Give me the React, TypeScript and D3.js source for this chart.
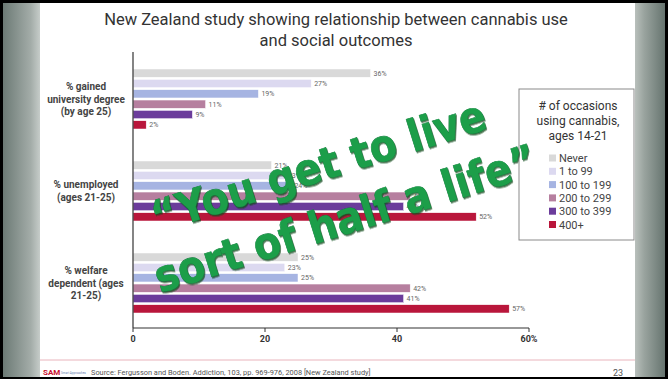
import React from "react";
import * as d3 from "d3";

const groups = ["degree", "unemployed", "welfare"];
const groupLabels = [
  ["% gained", "university degree", "(by age 25)"],
  ["% unemployed", "(ages 21-25)"],
  ["% welfare", "dependent (ages", "21-25)"],
];
const seriesNames = ["Never", "1 to 99", "100 to 199", "200 to 299", "300 to 399", "400+"];
const seriesColors = ["#d9d9d9", "#dcd9f0", "#a6b4e2", "#b67f9f", "#6b3c9b", "#b9163b"];
const never = [36, 21, 25];
const s1to99 = [27, 23, 23];
const s100to199 = [19, 24, 25];
const s200to299 = [11, 42, 42];
const s300to399 = [9, 41, 41];
const s400plus = [2, 52, 57];
const seriesValues = [never, s1to99, s100to199, s200to299, s300to399, s400plus];
const xTicks = [0, 20, 40, 60];
const titleLines = ["New Zealand study showing relationship between cannabis use", "and social outcomes"];
const legendTitle = ["# of occasions", "using cannabis,", "ages 14-21"];
const quoteLines = ["\u201CYou get to live", "sort of half a life\u201D"];
const sourceText = "Source: Fergusson and Boden. Addiction, 103, pp. 969-976, 2008 [New Zealand study]";
const pageNumber = "23";

const W = 668;
const H = 379;
const FONT = "Roboto, 'Open Sans', sans-serif";

export default function App() {
  const x = d3.scaleLinear().domain([0, 60]).range([133, 529]);
  const yOuter = d3.scaleBand<string>().domain(groups).range([53, 329]).padding(0);
  const yInner = d3.scaleBand<string>().domain(seriesNames).range([-30, 30]).paddingInner(0.2).paddingOuter(0);
  const axisY = 328;
  const angle = -17.5;

  return (
    <svg width={W} height={H} style={{ position: "absolute", left: 0, top: 0 }} fontFamily={FONT}>
      <defs>
        <linearGradient id="lp" x1="0" x2="1" y1="0" y2="0">
          <stop offset="0" stopColor="#6c7a75" />
          <stop offset="0.75" stopColor="#a3aca8" />
          <stop offset="1" stopColor="#c6ccc9" />
        </linearGradient>
        <linearGradient id="rp" x1="0" x2="1" y1="0" y2="0">
          <stop offset="0" stopColor="#b9c0bc" />
          <stop offset="0.3" stopColor="#9aa49f" />
          <stop offset="1" stopColor="#66746f" />
        </linearGradient>
        <filter id="sh" x="-10%" y="-10%" width="120%" height="130%">
          <feDropShadow dx="1" dy="1.5" stdDeviation="0.7" floodColor="#0a4a1e" floodOpacity="0.75" />
        </filter>
      </defs>
      <rect x={0} y={0} width={W} height={H} fill="#000" />
      <rect x={3} y={3} width={37} height={374} fill="url(#lp)" />
      <rect x={635} y={3} width={30} height={374} fill="url(#rp)" />
      <rect x={40} y={3} width={595} height={374} fill="#ffffff" />

      {/* title */}
      {titleLines.map((t, i) => (
        <text key={i} x={336} y={25 + i * 21} textAnchor="middle" fontSize={16.5} fill="#333">
          {t}
        </text>
      ))}

      {/* bars */}
      {groups.map((g, gi) => {
        const cy = (yOuter(g) as number) + yOuter.bandwidth() / 2;
        return (
          <g key={g}>
            {seriesNames.map((s, si) => {
              const v = seriesValues[si][gi];
              const y0 = cy + (yInner(s) as number);
              return (
                <g key={s}>
                  <rect
                    x={x(0)}
                    y={y0}
                    width={x(v) - x(0)}
                    height={yInner.bandwidth()}
                    fill={seriesColors[si]}
                    stroke="#fff"
                    strokeWidth={0.5}
                  />
                  <text x={x(v) + 3} y={y0 + yInner.bandwidth() / 2 + 2.5} fontSize={7} fill="#666">
                    {v}%
                  </text>
                </g>
              );
            })}
            {groupLabels[gi].map((l, li) => {
              const n = groupLabels[gi].length;
              return (
                <text
                  key={li}
                  x={86}
                  y={cy + (li - (n - 1) / 2) * 12.5 + 3.5}
                  textAnchor="middle"
                  fontSize={10}
                  fontWeight="bold"
                  fill="#444"
                >
                  {l}
                </text>
              );
            })}
          </g>
        );
      })}

      {/* axes */}
      <line x1={x(0)} x2={x(0)} y1={52} y2={axisY} stroke="#333" strokeWidth={1.2} />
      <line x1={x(0)} x2={x(60)} y1={axisY} y2={axisY} stroke="#333" strokeWidth={1.2} />
      {xTicks.map((t) => (
        <g key={t}>
          <line x1={x(t)} x2={x(t)} y1={axisY} y2={axisY + 4} stroke="#333" strokeWidth={1} />
          <text x={x(t)} y={axisY + 14} textAnchor="middle" fontSize={9} fontWeight="bold" fill="#333">
            {t === 60 ? "60%" : t}
          </text>
        </g>
      ))}

      {/* legend */}
      <rect x={519} y={89} width={115} height={151} fill="#fff" stroke="#8a8a8a" strokeWidth={1} />
      {legendTitle.map((t, i) => (
        <text key={i} x={578} y={110 + i * 15} textAnchor="middle" fontSize={12} fill="#333">
          {t}
        </text>
      ))}
      {seriesNames.map((s, i) => (
        <g key={s}>
          <rect x={549} y={158 + i * 13.3 - 3.5} width={7} height={7} fill={seriesColors[i]} />
          <text x={559} y={158 + i * 13.3 + 4} fontSize={11} fill="#444">
            {s}
          </text>
        </g>
      ))}

      {/* footer */}
      <line x1={40} x2={635} y1={360} y2={360} stroke="#e9b4bc" strokeWidth={1} />
      <text x={43} y={375} fontSize={8} fontWeight="bold" fill="#c8102e">
        SAM
      </text>
      <text x={61} y={374} fontSize={3} fill="#6a7fb0">
        Smart Approaches
      </text>
      <text x={91} y={375} fontSize={7.4} fill="#555">
        {sourceText}
      </text>
      <text x={613} y={376} fontSize={9} fill="#555">
        {pageNumber}
      </text>

      {/* overlay quote */}
      <g
        filter="url(#sh)"
        fontFamily="'DejaVu Sans Condensed', 'DejaVu Sans', Verdana, sans-serif"
        fontStretch="condensed"
        fontWeight="bold"
        fontSize={44}
      >
        <text
          x={157}
          y={233}
          transform={`rotate(${angle} 157 233)`}
          fill="#1a9e48"
          stroke="#10773a"
          strokeWidth={0.6}
          paintOrder="stroke"
        >
          {quoteLines[0]}
        </text>
        <text
          x={160}
          y={293}
          transform={`rotate(${angle} 160 293)`}
          fill="#1a9e48"
          stroke="#10773a"
          strokeWidth={0.6}
          paintOrder="stroke"
        >
          {quoteLines[1]}
        </text>
      </g>
    </svg>
  );
}
